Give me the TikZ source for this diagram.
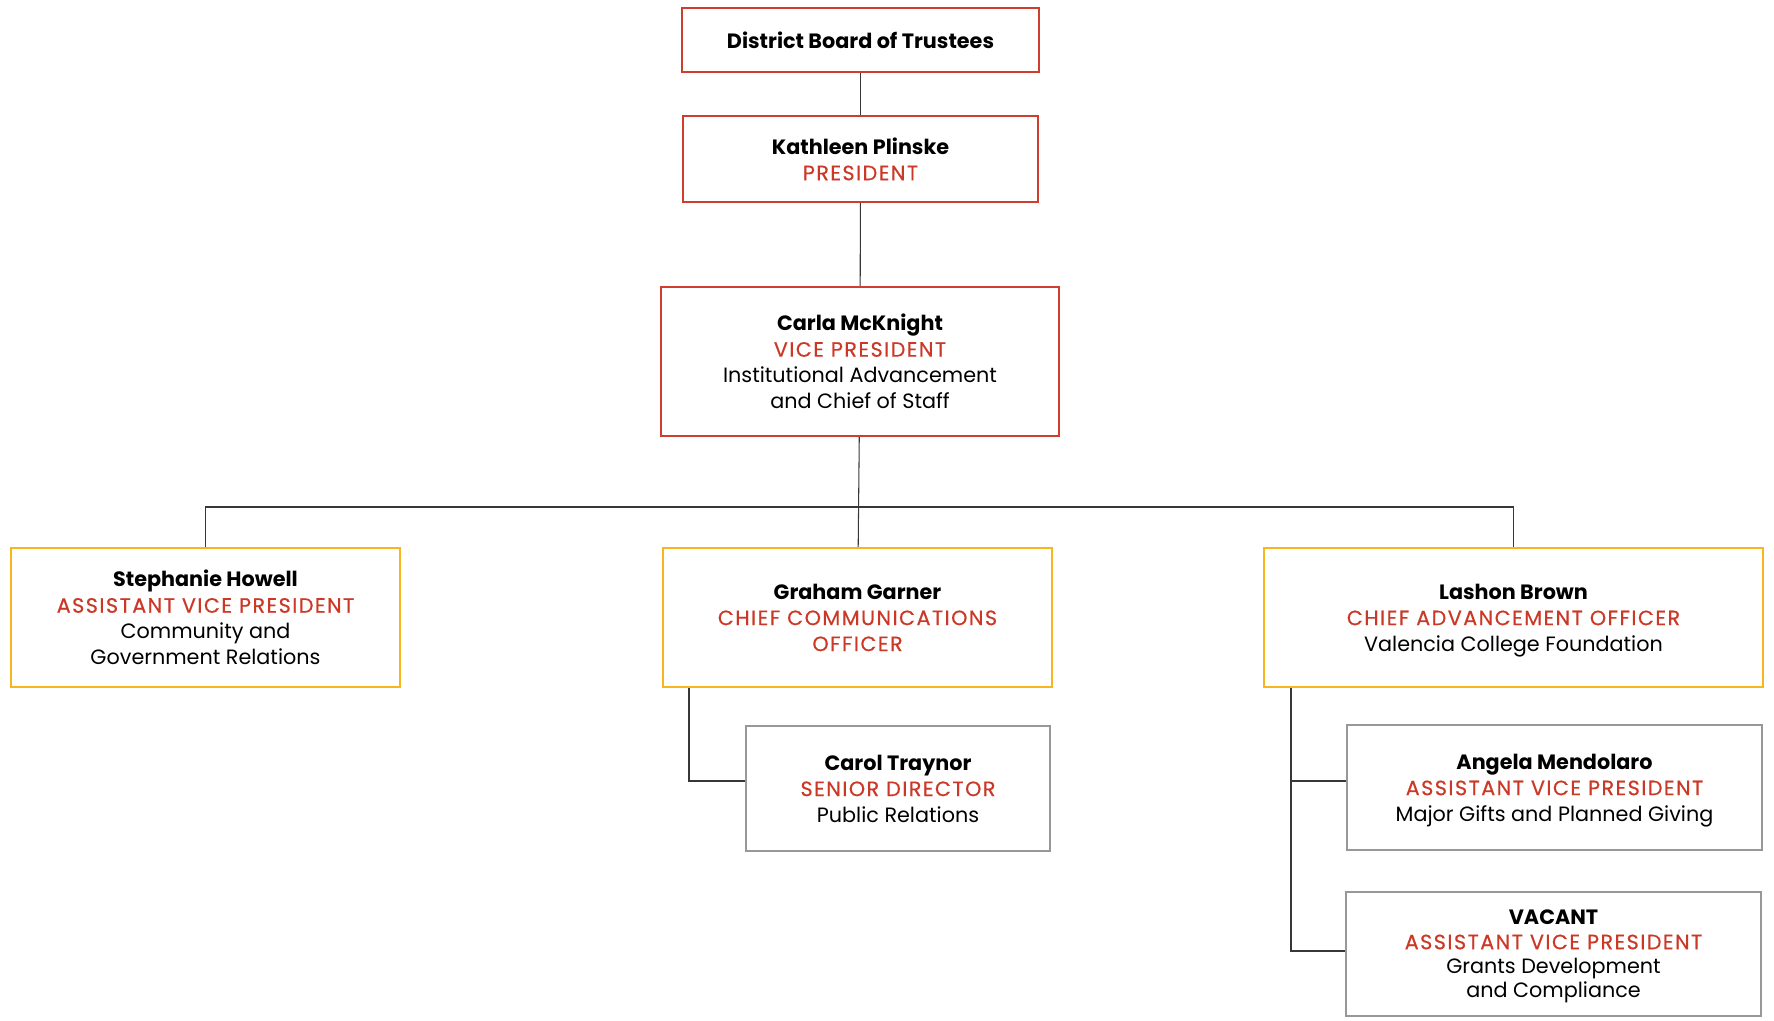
\documentclass[tikz,border=0pt]{standalone}
\usepackage{fontspec}
\setmainfont{Poppins}
\usepackage{xcolor}
\usepackage{tikz}
\usetikzlibrary{positioning, calc}
\definecolor{titlered}{RGB}{204, 56, 38}
\definecolor{boxred}{RGB}{206, 62, 46}
\definecolor{boxgold}{RGB}{247, 182, 30}
\definecolor{boxgray}{RGB}{152, 152, 152}
\definecolor{linkgray}{RGB}{55, 55, 55}
\newcommand{\rtitle}[1]{{\color{titlered}\addfontfeatures{LetterSpace=7,FakeBold=0.4}#1}}

\begin{document}
\begin{tikzpicture}[
    % Box Styles
    posbox/.style={rectangle, draw=#1, fill=white, align=center, line width=1.2pt, inner sep=0pt,
      font=\fontsize{11.8}{14.8}\selectfont},
    redbox/.style={posbox=boxred},
    goldbox/.style={posbox=boxgold},
    graybox/.style={posbox=boxgray},
    % Connector Styles
    link/.style={draw=linkgray, line width=0.6pt}
]
    \useasboundingbox (0,0) rectangle (35.48,-20.42);

    % =========================================================================
    % 1. TOP: BOARD, PRESIDENT, VICE PRESIDENT
    % =========================================================================
    \node (board) [redbox, minimum width=7.14cm, minimum height=1.28cm] at (17.21,-0.80) {\textbf{District Board of Trustees}};
    \node (pres)  [redbox, minimum width=7.10cm, minimum height=1.72cm] at (17.21,-3.18) {
      \textbf{Kathleen Plinske}\\
      \rtitle{PRESIDENT}
    };
    \node (vp)    [redbox, minimum width=7.96cm, minimum height=2.98cm] at (17.20,-7.23) {
      \textbf{Carla McKnight}\\
      \rtitle{VICE PRESIDENT}\\
      Institutional Advancement\\
      and Chief of Staff
    };

    % =========================================================================
    % 2. MIDDLE: DIRECT REPORTS
    % =========================================================================
    \node (howell) [goldbox, minimum width=7.78cm, minimum height=2.78cm] at (4.11,-12.35) {
      \textbf{Stephanie Howell}\\
      \rtitle{ASSISTANT VICE PRESIDENT}\\
      Community and\\
      Government Relations
    };
    \node (garner) [goldbox, minimum width=7.78cm, minimum height=2.78cm] at (17.15,-12.35) {
      \textbf{Graham Garner}\\
      \rtitle{CHIEF COMMUNICATIONS}\\
      \rtitle{OFFICER}
    };
    \node (brown)  [goldbox, minimum width=9.98cm, minimum height=2.78cm] at (30.27,-12.35) {
      \textbf{Lashon Brown}\\
      \rtitle{CHIEF ADVANCEMENT OFFICER}\\
      \smash{Valencia College Foundation}
    };

    % =========================================================================
    % 3. BOTTOM: SECOND LEVEL
    % =========================================================================
    \node (traynor)   [graybox, minimum width=6.08cm, minimum height=2.50cm] at (17.96,-15.77) {
      \textbf{Carol Traynor}\\
      \rtitle{SENIOR DIRECTOR}\\
      Public Relations
    };
    \node (mendolaro) [graybox, minimum width=8.30cm, minimum height=2.50cm] at (31.09,-15.75) {
      \textbf{Angela Mendolaro}\\
      \rtitle{ASSISTANT VICE PRESIDENT}\\
      \smash{Major Gifts and Planned Giving}
    };
    \node (vacant)    [graybox, minimum width=8.30cm, minimum height=2.48cm, font=\fontsize{11.8}{13.8}\selectfont] at (31.07,-19.08) {
      \textbf{VACANT}\\
      \rtitle{ASSISTANT VICE PRESIDENT}\\
      Grants Development\\
      \smash{and Compliance}
    };

    % =========================================================================
    % CONNECTIONS
    % =========================================================================
    \coordinate (bus) at (17.20,-10.14);
    \coordinate (gtap) at (13.78,0);
    \coordinate (btap) at (25.82,0);

    \draw[link] (board) -- (pres);
    \draw[link] (pres) -- (vp);
    \draw[link] (vp) -- (garner);
    \draw[link] (howell.north) |- (bus) -| (brown.north);

    \draw[link] (gtap |- garner.south) |- ([yshift=0.15cm]traynor.west);
    \draw[link] (btap |- brown.south) |- ([yshift=0.13cm]mendolaro.west);
    \draw[link] (btap |- brown.south) |- ([yshift=0.06cm]vacant.west);

\end{tikzpicture}
\end{document}
